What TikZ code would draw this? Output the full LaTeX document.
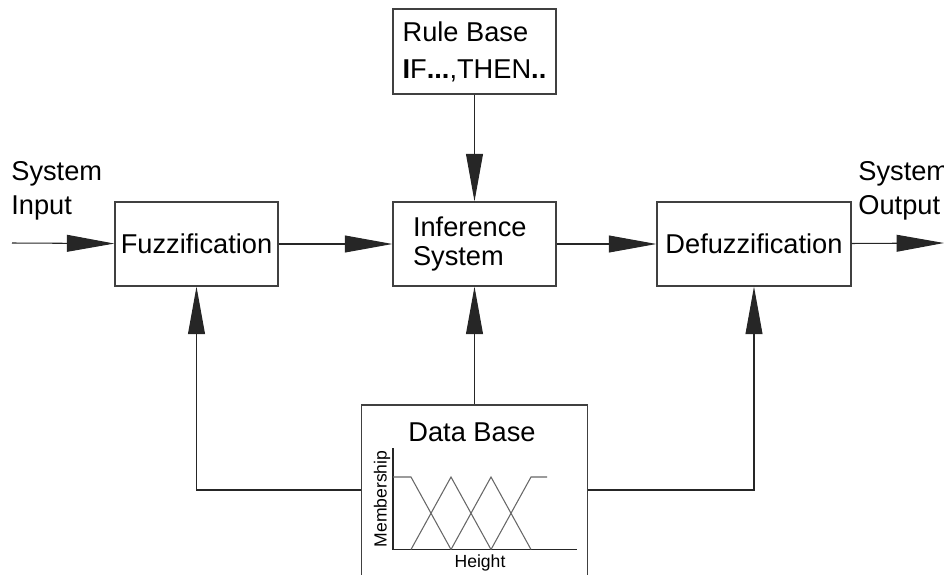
\documentclass[tikz,border=0pt]{standalone}
\usepackage{fontspec}
\setmainfont{Liberation Sans}
\usetikzlibrary{arrows.meta, positioning}
\tikzset{
	block/.style={
		rectangle, 
		minimum height=1.68cm, 
		text centered, 
		draw=black!75, 
		line width=0.7pt,
		font=\fontsize{15.5}{17}\selectfont
	},
	sidetext/.style={
		align=left,
		inner sep=0pt,
		font=\fontsize{15.5}{19.3}\selectfont
	},
	smalltext/.style={
		inner sep=0pt,
		font=\fontsize{10}{12}\selectfont
	},
	arrow/.style={line width=0.6pt, draw=black!85, -{Triangle[length=27pt, width=9.6pt]}},
	connect/.style={line width=0.6pt, draw=black!85},
	mf/.style={line width=0.6pt, draw=black!60}
}

\begin{document}
\begin{tikzpicture}[x=0.02cm, y=-0.02cm]
	\useasboundingbox (0,0) rectangle (944,575);
	% main blocks
	\node (fuzz) [block, minimum width=3.22cm] at (196.5,244) {Fuzzification};
	\node (infer) [block, minimum width=3.26cm, text width=2.46cm, align=left, font=\fontsize{15.5}{16.5}\selectfont] at (474.5,244) {Inference\\System};
	\node (defuzz) [block, minimum width=3.88cm] at (754,244) {Defuzzification};
	\node (rule) [block, minimum width=3.26cm, minimum height=1.7cm, align=left, font=\fontsize{15.5}{21}\selectfont] at (474.5,51.5) {Rule Base\\\textbf{I}F\textbf{...},THEN\textbf{..}};
	\node (data) [block, minimum width=4.52cm, minimum height=3.6cm] at (474.5,495) {};
	\node (dbtitle) [block, draw=none] at (472,432) {Data Base};
	
	% input and output
	\coordinate (in) at (12,243);
	\coordinate (out) at (944,243);
	\node (inlabel) [sidetext, anchor=north west] at (11,161) {System\\Input};
	\node (outlabel) [sidetext, anchor=north west] at (858,161) {System\\Output};
	
	\draw [arrow] (in) -- (fuzz);
	\draw [arrow] (fuzz) -- (infer);
	\draw [arrow] (infer) -- (defuzz);
	\draw [arrow] (defuzz) -- (out);
	\draw [arrow] (rule) -- (infer);
	\draw [arrow] (data) -- (infer);
	\draw [arrow] ([yshift=0.1cm]data.west) -| (fuzz);
	\draw [arrow] ([yshift=0.1cm]data.east) -| (defuzz);
	
	% membership chart
	\draw [connect] (393,448) -- (393,549.5) -- (577,549.5);
	\draw [mf] (393,477) -- (411,477) -- (451,549.5);
	\draw [mf] (411,549.5) -- (451,477) -- (491,549.5);
	\draw [mf] (451,549.5) -- (491,477) -- (531,549.5);
	\draw [mf] (491,549.5) -- (531,477) -- (547,477);
	\node (member) [smalltext, rotate=90] at (382,499) {Membership};
	\node (height) [smalltext] at (480,563) {Height};
\end{tikzpicture}
\end{document}
